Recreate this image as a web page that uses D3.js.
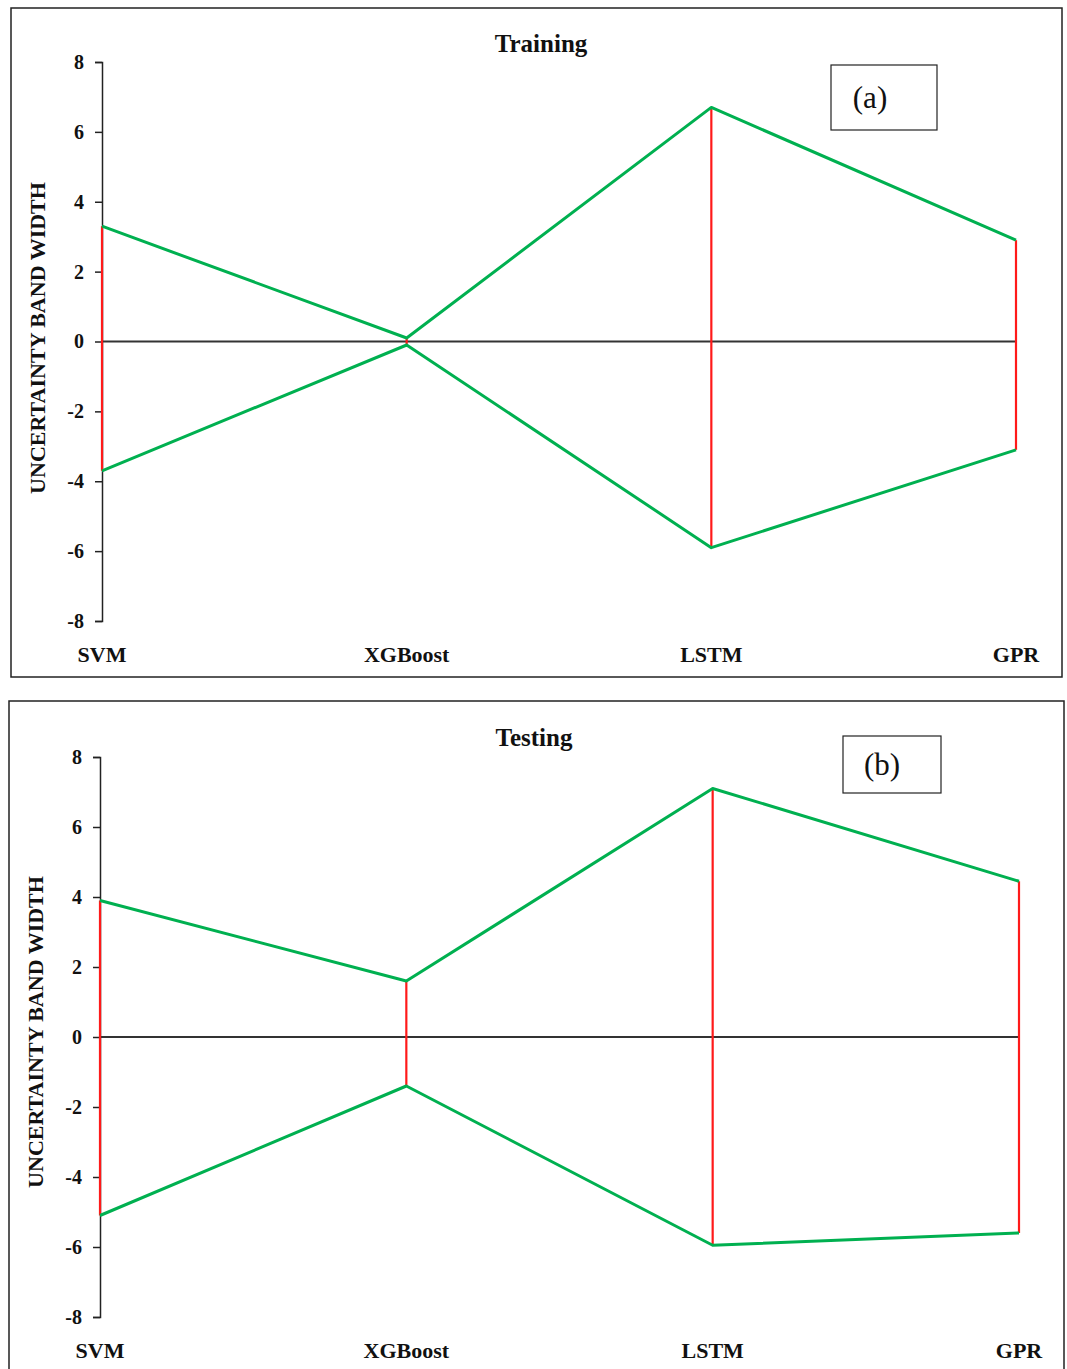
<!DOCTYPE html>
<html><head><meta charset="utf-8">
<script src="https://cdn.jsdelivr.net/npm/d3@7"></script>
<style>body{margin:0;background:#fff}svg{display:block}</style>
</head><body>
<script>
const categories = ["SVM","XGBoost","LSTM","GPR"];
const trainUpper = [3.3, 0.1, 6.7, 2.9];
const trainLower = [-3.7, -0.1, -5.9, -3.1];
const testUpper = [3.9, 1.6, 7.1, 4.45];
const testLower = [-5.1, -1.4, -5.95, -5.6];
const yTicks = [-8,-6,-4,-2,0,2,4,6,8];

const svg = d3.select("body").append("svg").attr("width",1067).attr("height",1369);
const font = "'Liberation Serif','Times New Roman',serif";

function panel(cfg){
  const g = svg.append("g");
  g.append("rect").attr("x",cfg.box[0]).attr("y",cfg.box[1]).attr("width",cfg.box[2]).attr("height",cfg.box[3])
    .attr("fill","none").attr("stroke","#222").attr("stroke-width",1.5);
  const x = d3.scalePoint().domain(categories).range([cfg.x0,cfg.x1]);
  const y = d3.scaleLinear().domain([-8,8]).range([cfg.yb,cfg.yt]);
  const ax = g.append("g").attr("transform",`translate(${cfg.x0},0)`)
    .call(d3.axisLeft(y).tickValues(yTicks).tickSize(7).tickPadding(11).tickFormat(d=>String(d)));
  ax.select(".domain").attr("stroke","#222").attr("stroke-width",1.5);
  ax.selectAll(".tick line").attr("stroke","#222").attr("stroke-width",1.5);
  ax.selectAll("text").attr("font-family",font).attr("font-weight","bold").attr("font-size",20).attr("fill","#111");
  // zero line
  g.append("line").attr("x1",x(categories[0])).attr("x2",x(categories[3])).attr("y1",y(0)).attr("y2",y(0))
    .attr("stroke","#333").attr("stroke-width",2);
  // red vertical bands
  g.selectAll(".band").data(categories).enter().append("line")
    .attr("x1",d=>x(d)).attr("x2",d=>x(d))
    .attr("y1",(d,i)=>y(cfg.up[i])).attr("y2",(d,i)=>y(cfg.lo[i]))
    .attr("stroke","#ff1a1a").attr("stroke-width",2.2);
  const line = d3.line().x((d,i)=>x(categories[i])).y(d=>y(d));
  [cfg.up,cfg.lo].forEach(arr=>{
    g.append("path").attr("d",line(arr)).attr("fill","none").attr("stroke","#00b050").attr("stroke-width",3).attr("stroke-linejoin","round");
  });
  // category labels
  g.selectAll(".cat").data(categories).enter().append("text")
    .attr("x",d=>x(d)).attr("y",cfg.catY).attr("text-anchor","middle")
    .attr("font-family",font).attr("font-weight","bold").attr("font-size",22).attr("fill","#111").text(d=>d);
  // title
  g.append("text").attr("x",cfg.titleX).attr("y",cfg.titleY).attr("text-anchor","middle")
    .attr("font-family",font).attr("font-weight","bold").attr("font-size",25).attr("fill","#111").text(cfg.title);
  // y label
  g.append("text").attr("transform",`translate(${cfg.ylX},${cfg.ylY}) rotate(-90)`).attr("text-anchor","middle")
    .attr("font-family",font).attr("font-weight","bold").attr("font-size",22).attr("fill","#111").text("UNCERTAINTY BAND WIDTH");
  // label box
  g.append("rect").attr("x",cfg.lb[0]).attr("y",cfg.lb[1]).attr("width",cfg.lb[2]).attr("height",cfg.lb[3])
    .attr("fill","#fff").attr("stroke","#222").attr("stroke-width",1.2);
  g.append("text").attr("x",cfg.tx).attr("y",cfg.lb[1]+cfg.lb[3]/2+10).attr("text-anchor","middle")
    .attr("font-family",font).attr("font-size",31).attr("fill","#111").text(cfg.tag);
}

panel({box:[11,8,1051,669], x0:102, x1:1016, yt:62, yb:621, up:trainUpper, lo:trainLower,
  catY:662, title:"Training", titleX:541, titleY:52, ylX:45, ylY:338, lb:[831,65,106,65], tx:870, tag:"(a)"});
panel({box:[9,701,1055,680], x0:100, x1:1019, yt:757, yb:1317, up:testUpper, lo:testLower,
  catY:1358, title:"Testing", titleX:534, titleY:746, ylX:43, ylY:1032, lb:[843,736,98,57], tx:882, tag:"(b)"});
</script>
</body></html>
